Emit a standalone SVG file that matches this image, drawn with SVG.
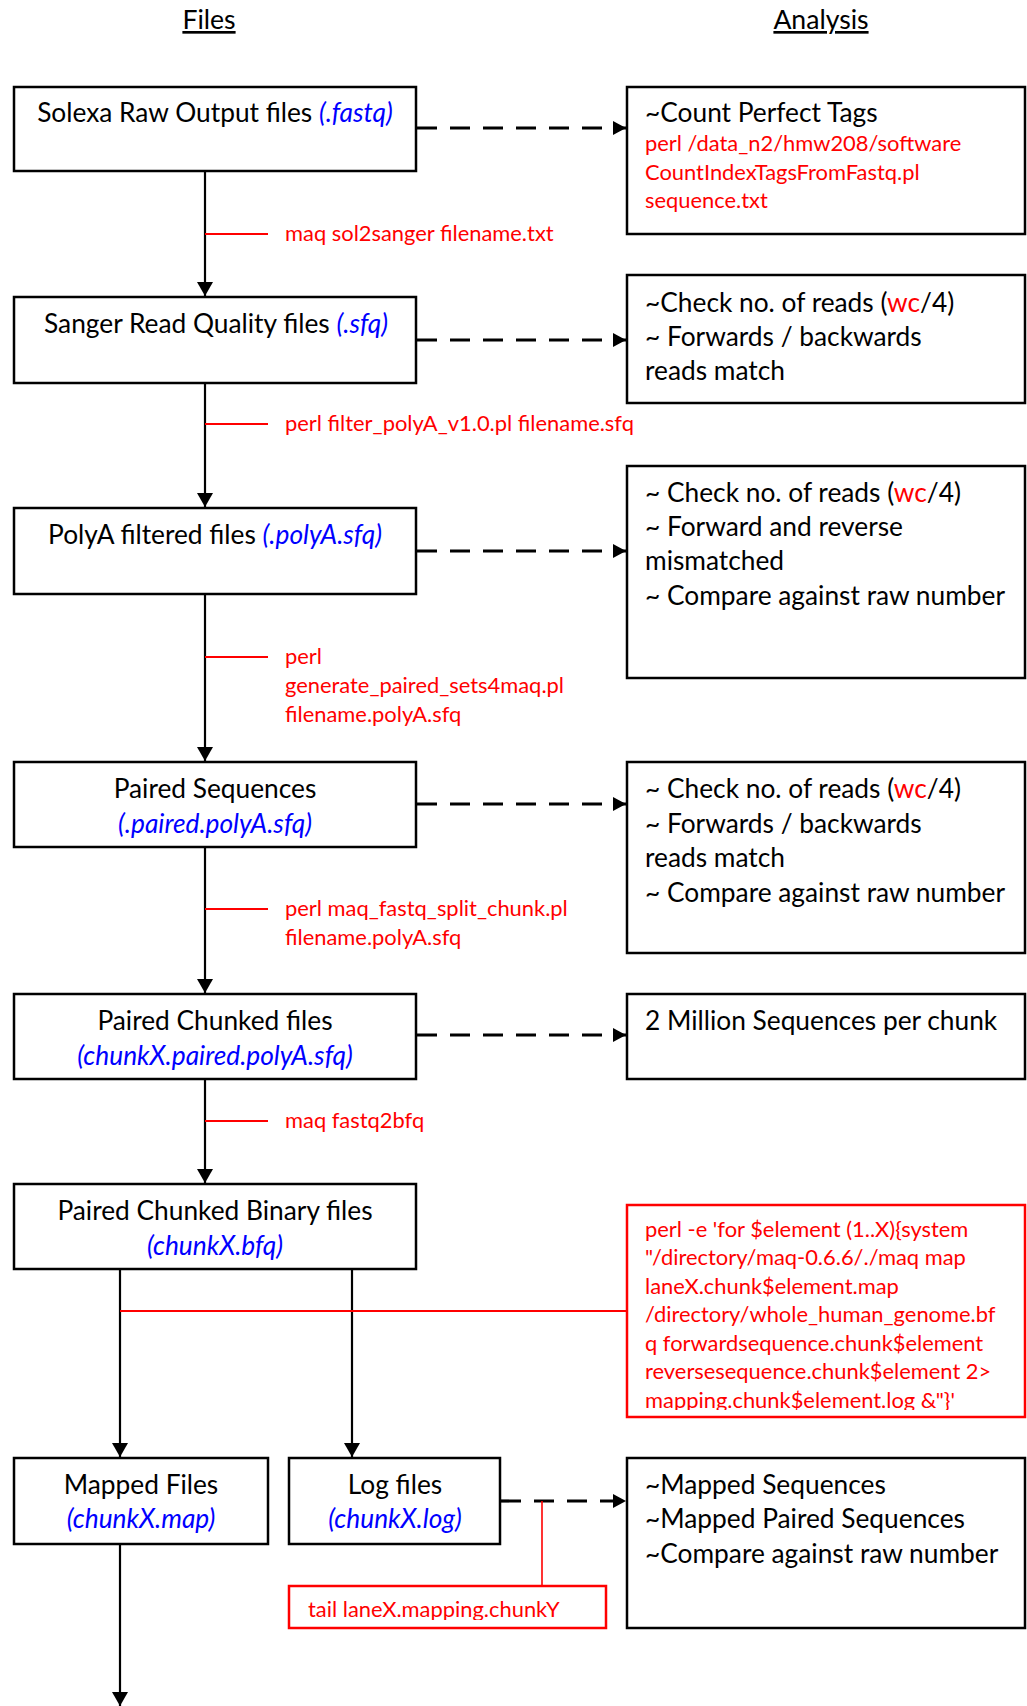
<svg xmlns="http://www.w3.org/2000/svg" width="1027" height="1706" viewBox="0 0 1027 1706">
<style>
.box{fill:#fff;stroke:#000;stroke-width:2.5}
.rbox{fill:#fff;stroke:#f00;stroke-width:2.5}
text{font-family:Lato,"Liberation Sans",sans-serif}
.t{font-size:26.3px;fill:#000}
.b{fill:#00f;font-style:italic}
.r{fill:#f00}
.rt{font-size:21.9px;fill:#f00}
.flow{stroke:#000;stroke-width:2.2;fill:none}
.dash{stroke:#000;stroke-width:3.2;stroke-dasharray:20 13;fill:none}
.tick{stroke:#f00;stroke-width:2.2;fill:none}
.hd{font-size:26.6px;fill:#000;text-decoration:underline}
</style>
<defs>
<marker id="ah" viewBox="0 0 14 16" refX="14" refY="8" markerWidth="14" markerHeight="16" markerUnits="userSpaceOnUse" orient="auto"><path d="M0,0 L14,8 L0,16 z" fill="#000"/></marker>
<marker id="da" viewBox="0 0 13 14" refX="13" refY="7" markerWidth="13" markerHeight="14" markerUnits="userSpaceOnUse" orient="auto"><path d="M0,0 L13,7 L0,14 z" fill="#000"/></marker>
<clipPath id="c6"><rect x="627" y="1205" width="400" height="205"/></clipPath>
<clipPath id="ct"><rect x="289" y="1586" width="317" height="34"/></clipPath>
</defs>
<rect width="1027" height="1706" fill="#fff"/>
<g id="headers">
<text class="hd" x="209" y="29" text-anchor="middle">Files</text>
<text class="hd" x="821" y="29" text-anchor="middle">Analysis</text>
</g>
<g id="connectors">
<line class="flow" x1="205" y1="172" x2="205" y2="296" marker-end="url(#ah)"/>
<line class="flow" x1="205" y1="384" x2="205" y2="507" marker-end="url(#ah)"/>
<line class="flow" x1="205" y1="595" x2="205" y2="761" marker-end="url(#ah)"/>
<line class="flow" x1="205" y1="848" x2="205" y2="993" marker-end="url(#ah)"/>
<line class="flow" x1="205" y1="1080" x2="205" y2="1183" marker-end="url(#ah)"/>
<line class="flow" x1="120" y1="1270" x2="120" y2="1457" marker-end="url(#ah)"/>
<line class="flow" x1="352" y1="1270" x2="352" y2="1457" marker-end="url(#ah)"/>
<line class="flow" x1="120" y1="1545" x2="120" y2="1706" marker-end="url(#ah)"/>
<line class="dash" x1="417" y1="128" x2="626" y2="128" marker-end="url(#da)"/>
<line class="dash" x1="417" y1="340" x2="626" y2="340" marker-end="url(#da)"/>
<line class="dash" x1="417" y1="551" x2="626" y2="551" marker-end="url(#da)"/>
<line class="dash" x1="417" y1="804" x2="626" y2="804" marker-end="url(#da)"/>
<line class="dash" x1="417" y1="1035" x2="626" y2="1035" marker-end="url(#da)"/>
<line class="dash" x1="501" y1="1501" x2="626" y2="1501" marker-end="url(#da)"/>
<line class="tick" x1="205" y1="234" x2="268" y2="234"/>
<line class="tick" x1="205" y1="424" x2="268" y2="424"/>
<line class="tick" x1="205" y1="657" x2="268" y2="657"/>
<line class="tick" x1="205" y1="909" x2="268" y2="909"/>
<line class="tick" x1="205" y1="1121" x2="268" y2="1121"/>
<line class="tick" x1="120" y1="1311" x2="627" y2="1311"/>
<line class="tick" x1="542" y1="1501" x2="542" y2="1585" style="stroke-width:1.6"/>
</g>
<g id="labels">
<text class="rt" x="285" y="241">maq sol2sanger filename.txt</text>
<text class="rt" x="285" y="431">perl filter_polyA_v1.0.pl filename.sfq</text>
<text class="rt" x="285" y="664">perl</text>
<text class="rt" x="285" y="693">generate_paired_sets4maq.pl</text>
<text class="rt" x="285" y="722">filename.polyA.sfq</text>
<text class="rt" x="285" y="916">perl maq_fastq_split_chunk.pl</text>
<text class="rt" x="285" y="945">filename.polyA.sfq</text>
<text class="rt" x="285" y="1128">maq fastq2bfq</text>
</g>
<g id="n-solexa">
<rect class="box" x="14" y="87" width="402" height="84"/>
<text class="t" x="215" y="122" text-anchor="middle">Solexa Raw Output files <tspan class="b">(.fastq)</tspan></text>
</g>
<g id="n-sanger">
<rect class="box" x="14" y="297" width="402" height="86"/>
<text class="t" x="216" y="333" text-anchor="middle">Sanger Read Quality files <tspan class="b">(.sfq)</tspan></text>
</g>
<g id="n-polya">
<rect class="box" x="14" y="508" width="402" height="86"/>
<text class="t" x="215" y="544" text-anchor="middle">PolyA filtered files <tspan class="b">(.polyA.sfq)</tspan></text>
</g>
<g id="n-paired">
<rect class="box" x="14" y="762" width="402" height="85"/>
<text class="t" x="215" y="798" text-anchor="middle">Paired Sequences</text>
<text class="t b" x="215" y="833" text-anchor="middle">(.paired.polyA.sfq)</text>
</g>
<g id="n-chunked">
<rect class="box" x="14" y="994" width="402" height="85"/>
<text class="t" x="215" y="1030" text-anchor="middle">Paired Chunked files</text>
<text class="t b" x="215" y="1065" text-anchor="middle">(chunkX.paired.polyA.sfq)</text>
</g>
<g id="n-binary">
<rect class="box" x="14" y="1184" width="402" height="85"/>
<text class="t" x="215" y="1220" text-anchor="middle">Paired Chunked Binary files</text>
<text class="t b" x="215" y="1255" text-anchor="middle">(chunkX.bfq)</text>
</g>
<g id="n-mapped">
<rect class="box" x="14" y="1458" width="254" height="86"/>
<text class="t" x="141" y="1494" text-anchor="middle">Mapped Files</text>
<text class="t b" x="141" y="1528" text-anchor="middle">(chunkX.map)</text>
</g>
<g id="n-log">
<rect class="box" x="289" y="1458" width="211" height="86"/>
<text class="t" x="395" y="1494" text-anchor="middle">Log files</text>
<text class="t b" x="395" y="1528" text-anchor="middle">(chunkX.log)</text>
</g>
<g id="n-tail">
<rect class="rbox" x="289" y="1586" width="317" height="42"/>
<text class="rt" x="308" y="1617" clip-path="url(#ct)">tail laneX.mapping.chunkY</text>
</g>
<g id="a-count">
<rect class="box" x="627" y="87" width="398" height="147"/>
<text class="t" x="645" y="122">~Count Perfect Tags</text>
<text class="rt" x="645" y="151">perl /data_n2/hmw208/software</text>
<text class="rt" x="645" y="180">CountIndexTagsFromFastq.pl</text>
<text class="rt" x="645" y="208">sequence.txt</text>
</g>
<g id="a-check1">
<rect class="box" x="627" y="275" width="398" height="128"/>
<text class="t" x="645" y="312">~Check no. of reads (<tspan class="r">wc</tspan>/4)</text>
<text class="t" x="645" y="346">~ Forwards / backwards</text>
<text class="t" x="645" y="380">reads match</text>
</g>
<g id="a-check2">
<rect class="box" x="627" y="466" width="398" height="212"/>
<text class="t" x="645" y="502">~ Check no. of reads (<tspan class="r">wc</tspan>/4)</text>
<text class="t" x="645" y="536">~ Forward and reverse</text>
<text class="t" x="645" y="570">mismatched</text>
<text class="t" x="645" y="605">~ Compare against raw number</text>
</g>
<g id="a-check3">
<rect class="box" x="627" y="762" width="398" height="191"/>
<text class="t" x="645" y="798">~ Check no. of reads (<tspan class="r">wc</tspan>/4)</text>
<text class="t" x="645" y="833">~ Forwards / backwards</text>
<text class="t" x="645" y="867">reads match</text>
<text class="t" x="645" y="902">~ Compare against raw number</text>
</g>
<g id="a-million">
<rect class="box" x="627" y="994" width="398" height="85"/>
<text class="t" x="645" y="1030">2 Million Sequences per chunk</text>
</g>
<g id="a-maqmap">
<rect class="rbox" x="627" y="1205" width="398" height="212"/>
<g clip-path="url(#c6)">
<text class="rt" x="645" y="1237">perl -e 'for $element (1..X){system</text>
<text class="rt" x="645" y="1265">"/directory/maq-0.6.6/./maq map</text>
<text class="rt" x="645" y="1294">laneX.chunk$element.map</text>
<text class="rt" x="645" y="1322">/directory/whole_human_genome.bf</text>
<text class="rt" x="645" y="1351">q forwardsequence.chunk$element</text>
<text class="rt" x="645" y="1379">reversesequence.chunk$element 2&gt;</text>
<text class="rt" x="645" y="1408">mapping.chunk$element.log &amp;"}'</text>
</g>
</g>
<g id="a-mapped">
<rect class="box" x="627" y="1458" width="398" height="170"/>
<text class="t" x="645" y="1494">~Mapped Sequences</text>
<text class="t" x="645" y="1528">~Mapped Paired Sequences</text>
<text class="t" x="645" y="1563">~Compare against raw number</text>
</g>
</svg>
